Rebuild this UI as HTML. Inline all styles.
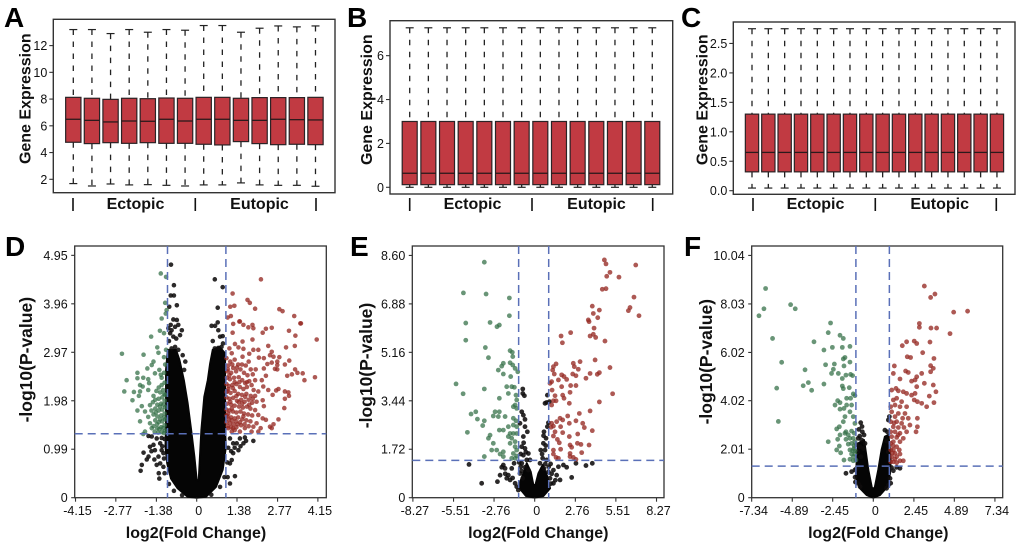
<!DOCTYPE html>
<html lang="en">
<head>
<meta charset="utf-8">
<title>Gene expression box plots and volcano plots</title>
<style>
html,body{margin:0;padding:0;background:#fff;width:1020px;height:548px;overflow:hidden}
svg{display:block;filter:blur(.35px)}
text{font-family:"Liberation Sans",Arial,sans-serif;fill:#111}
.tick{font-size:12.5px}
.bold{font-size:16px;font-weight:700}
.yttl{font-size:17.5px;font-weight:700}
.letter{font-size:28px;font-weight:700;fill:#000}
</style>
</head>
<body>
<svg id="figure" width="1020" height="548" viewBox="0 0 1020 548" xmlns="http://www.w3.org/2000/svg"></svg>
<script>
/* ---------- box plot data ---------- */
const aUpper=[13.2,13.2,12.9,13.2,13,13.2,13.15,13.5,13.5,13,13.3,13.47,13.4,13.47];
const aQ3=[8.13,8.06,7.98,8.06,8.03,8.08,8.06,8.13,8.13,8.06,8.11,8.11,8.11,8.13];
const aMedian=[6.49,6.41,6.29,6.36,6.34,6.49,6.36,6.49,6.49,6.41,6.41,6.49,6.46,6.44];
const aQ1=[4.77,4.67,4.74,4.69,4.74,4.69,4.69,4.62,4.57,4.82,4.67,4.59,4.62,4.59];
const aLower=[1.68,1.5,1.65,1.58,1.6,1.55,1.5,1.58,1.58,1.73,1.58,1.55,1.55,1.48];
const aTicks=[2,4,6,8,10,12];

const bUpper=[7.27,7.27,7.27,7.27,7.27,7.27,7.27,7.27,7.27,7.27,7.27,7.27,7.27,7.27];
const bQ3=[3,3,3,3,3,3,3,3,3,3,3,3,3,3];
const bMedian=[.64,.64,.64,.64,.64,.64,.64,.64,.64,.64,.64,.64,.64,.64];
const bQ1=[.12,.12,.12,.12,.12,.12,.12,.12,.12,.12,.12,.12,.12,.12];
const bLower=[0,0,0,0,0,0,0,0,0,0,0,0,0,0];
const bTicks=[0,2,4,6];

const cUpper=[2.75,2.75,2.75,2.75,2.75,2.75,2.75,2.75,2.75,2.75,2.75,2.75,2.75,2.75,2.75,2.75];
const cQ3=[1.3,1.3,1.3,1.3,1.3,1.3,1.3,1.3,1.3,1.3,1.3,1.3,1.3,1.3,1.3,1.3];
const cMedian=[.65,.65,.65,.65,.65,.65,.65,.65,.65,.65,.65,.65,.65,.65,.65,.65];
const cQ1=[.32,.32,.32,.32,.32,.32,.32,.32,.32,.32,.32,.32,.32,.32,.32,.32];
const cLower=[.045,.045,.045,.045,.045,.045,.045,.045,.045,.045,.045,.045,.045,.045,.045,.045];
const cTicks=["0.0","0.5","1.0","1.5","2.0","2.5"];

/* ---------- volcano D ---------- */
const dXTicks=["-4.15","-2.77","-1.38","0","1.38","2.77","4.15"];
const dYTicks=["0","0.99","1.98","2.97","3.96","4.95"];
const dThresholds=[-1,1,1.307];
const dCloud=[[-.99,3.02],[-1.05,2.61],[-1.05,1.38],[-1.07,1.04],[-1.01,.7],[-.88,.39],[-.65,.19],[-.31,.02],[0,0],[.32,.02],[.66,.22],[.89,.57],[1,1.04],[.97,1.38],[.97,2.95],[.78,3.08],[.55,3.02],[.46,2.74],[.38,2.4],[.26,2.06],[.16,1.38],[.07,.36],[0,.36],[-.08,.84],[-.19,1.38],[-.31,1.93],[-.44,2.4],[-.59,2.81],[-.71,3.02]];
const dBlack=[[-.88,4.76],[-.78,4.34],[-.89,4.13],[-.78,4.13],[-.68,3.93],[-.94,3.9],[-.8,3.64],[-.68,3.63],[-.89,3.53],[-.97,3.46],[-.86,3.42],[-.74,3.49],[-.63,3.53],[-.51,3.42],[-.91,3.36],[-.8,3.29],[-.57,3.32],[-.86,3.05],[-.74,3.08],[-.63,3.02],[-.48,2.91],[-.39,2.78],[-.43,2.61],[.62,4.46],[.89,4.3],[.72,3.88],[.72,3.58],[.51,3.51],[.63,3.51],[.74,3.42],[.8,3.29],[.89,3.3],[.74,3.06],[.85,3.08],[.62,3.05],[1.31,.44],[1.06,.42],[1.14,.29],[1.14,.7],[1.25,.91],[1.43,.97],[1.6,1.11],[1.69,1.16],[1.94,1.16],[1.48,1.21],[1.37,1.11],[1.2,.77],[1.25,1.11],[1.14,1.21],[1.65,1.23],[1.08,1.02],[-1.82,.92],[-1.88,.67],[-1.92,.55],[-1.71,.78],[-1.65,.84],[-1.6,1.04],[-1.48,1.08],[-1.37,1.21],[-1.25,1.11],[-1.2,.97],[-1.31,.84],[-1.37,.67],[-1.28,.39],[-1.14,.63],[-1.43,.97],[-1.54,1.25],[-1.65,1.26],[-1.14,.91],[-1.25,.7],[-1.1,1.2],[-1.18,1.05],[-1.3,.5],[-1.12,.8],[-1.1,.5],[-.95,.28],[-.78,.14],[-.5,.05],[.5,.06],[.8,.22],[.95,.42],[1.05,.72],[-1.45,.78],[-1.55,.95],[-1.2,1.22],[1.3,1.02],[1.5,1.05],[1.18,.95],[-.95,3.2],[-.7,3.25],[.55,3.2],[.9,3.15]];
const dGreen=[[-1.23,4.58],[-1.05,4.51],[-1.08,3.98],[-1.03,3.83],[-1.2,3.66],[-1.06,3.76],[-2.56,2.94],[-1.82,2.92],[-1.56,3.29],[-1.26,3.41],[-1.12,3.36],[-1.35,3.07],[-1.31,2.96],[-1.12,2.87],[-1.05,3.02],[-1.48,2.78],[-1.54,2.71],[-1.69,2.64],[-1.43,2.54],[-2.03,2.55],[-2.03,2.44],[-2.4,2.4],[-1.83,2.45],[-1.66,2.42],[-1.28,2.61],[-1.23,2.51],[-1.94,2.3],[-1.63,2.34],[-2.48,2.17],[-2.15,2.16],[-1.85,2.27],[-1.94,2.17],[-1.66,2.2],[-1.98,2.08],[-2.2,1.99],[-1.48,2.08],[-1.88,1.87],[-2.03,1.78],[-1.77,1.76],[-1.6,1.89],[-1.94,1.56],[-1.83,1.3],[-1.77,1.35],[-1.66,1.65],[-1.6,1.52],[-1.54,1.42],[-1.1,2.35],[-1.2,2.3],[-1.3,2.25],[-1.15,2.2],[-1.25,2.15],[-1.38,2.18],[-1.08,2.1],[-1.18,2.05],[-1.3,2.02],[-1.42,2],[-1.1,1.98],[-1.22,1.92],[-1.35,1.9],[-1.5,1.95],[-1.08,1.85],[-1.18,1.8],[-1.3,1.78],[-1.42,1.82],[-1.55,1.78],[-1.1,1.72],[-1.22,1.68],[-1.35,1.66],[-1.48,1.7],[-1.08,1.6],[-1.18,1.56],[-1.3,1.54],[-1.42,1.58],[-1.1,1.48],[-1.22,1.44],[-1.35,1.42],[-1.48,1.46],[-1.08,1.37],[-1.2,1.34],[-1.32,1.33],[-1.44,1.35],[-1.12,1.32],[-1.12,2.55],[-1.08,2.72],[-1.2,2.45],[-1.14,1.9],[-1.26,1.86],[-1.12,1.64],[-1.25,1.6],[-1.15,1.42],[-1.28,1.4],[-1.4,1.74],[-1.12,2.12],[-1.36,1.5]];
const dRed=[[2.2,4.46],[1.23,4.17],[1.74,4.04],[1.82,3.98],[2,3.86],[1.29,3.92],[1.15,3.9],[2.83,3.85],[2.94,3.81],[3.34,3.71],[3.55,3.56],[1.17,3.71],[1.06,3.68],[1.46,3.6],[1.25,3.55],[1.48,3.6],[1.6,3.53],[1.77,3.48],[1.91,3.53],[1.94,3.46],[1.23,3.37],[2.26,3.37],[2.37,3.45],[2.57,3.47],[3.16,3.41],[3.57,3.56],[3.38,3.31],[1.91,3.23],[1.31,3.14],[1.57,3.19],[1.43,3.07],[1.12,3.05],[1.6,3.04],[2.45,3.1],[3.06,3.07],[3.36,3.1],[4.11,3.23],[1.2,2.95],[1.57,2.88],[1.8,2.94],[1.94,3.02],[2.11,3.02],[2.57,2.98],[2.51,2.91],[2.63,2.88],[2.83,2.87],[2.13,2.86],[2.3,2.85],[3.17,2.8],[3.02,2.72],[2.76,2.78],[2.76,2.71],[2.76,2.62],[2.57,2.76],[2.42,2.73],[2.3,2.64],[2.68,2.63],[3.37,2.62],[3.45,2.55],[3.63,2.54],[3.26,2.52],[3.1,2.49],[2.37,2.49],[4.05,2.46],[3.69,2.4],[2.8,2.22],[2.72,2.19],[3.02,2.17],[3.14,2.15],[2.6,2.1],[3.02,2.02],[3.16,2.08],[3,1.83],[2.8,1.6],[2.63,1.5],[2.51,1.45],[2.57,1.42],[2.37,1.59],[2.3,1.87],[2.26,1.99],[2.45,2.2],[2.28,2.27],[2.11,2.17],[2,2.4],[2.23,2.4],[2.05,1.96],[2,1.79],[2.11,1.69],[2.26,1.62],[2.05,1.52],[2.19,1.42],[2.11,1.35],[1.94,1.45],[1.88,1.35],[1.65,1.42],[1.25,1.42],[1.2,1.35],[1.48,1.35],[1.02,2.85],[1.08,2.7],[1.15,2.78],[1.3,2.82],[1.42,2.72],[1.25,2.65],[1.05,2.58],[1.18,2.55],[1.35,2.58],[1.5,2.62],[1.68,2.7],[1.78,2.78],[1.85,2.62],[1.62,2.55],[1.74,2.5],[1.92,2.52],[2.02,2.62],[1.03,2.45],[1.14,2.42],[1.28,2.45],[1.44,2.46],[1.56,2.4],[1.66,2.34],[1.8,2.38],[1.88,2.3],[1.02,2.32],[1.1,2.28],[1.22,2.3],[1.36,2.32],[1.48,2.26],[1.6,2.22],[1.72,2.26],[1.95,2.2],[1.05,2.18],[1.16,2.14],[1.3,2.18],[1.42,2.12],[1.55,2.1],[1.7,2.12],[1.85,2.08],[2,2.08],[1.02,2.05],[1.12,2.02],[1.25,2.04],[1.38,1.98],[1.52,2],[1.64,1.96],[1.78,2],[1.9,1.94],[1.04,1.92],[1.18,1.9],[1.3,1.88],[1.45,1.86],[1.58,1.84],[1.72,1.86],[1.84,1.82],[1.02,1.8],[1.12,1.78],[1.24,1.76],[1.36,1.74],[1.5,1.76],[1.62,1.72],[1.76,1.7],[1.9,1.68],[1.05,1.66],[1.18,1.64],[1.3,1.62],[1.42,1.64],[1.56,1.6],[1.7,1.58],[1.84,1.56],[1.02,1.54],[1.14,1.52],[1.26,1.5],[1.4,1.5],[1.52,1.48],[1.08,1.42],[1.3,1.38],[1.64,1.5],[1.78,1.46],[1.07,2.62],[1.22,2.72],[1.38,2.66],[1.55,2.72],[1.12,2.5],[1.3,2.36],[1.46,2.36],[1.08,2.22],[1.24,2.24],[1.36,2.08],[1.15,1.96],[1.08,1.72],[1.2,1.82],[1.44,1.95],[1.56,1.92],[1.2,1.58],[1.34,1.56],[1.1,1.6],[1.48,1.54],[1.6,1.66],[1.06,1.46],[1.18,1.44],[1.36,1.44],[1.02,2.16],[1.02,1.68],[1.66,2.06],[1.8,1.9],[1.92,2.02],[1.72,2.36]];

/* ---------- volcano E ---------- */
const eXTicks=["-8.27","-5.51","-2.76","0","2.76","5.51","8.27"];
const eYTicks=["0","1.72","3.44","5.16","6.88","8.60"];
const eThresholds=[-1.09,.95,1.325];
const eCloud=[[-1.11,.39],[-.81,.8],[-.54,1.22],[-.27,.92],[-.09,.45],[.05,.45],[.25,.86],[.54,1.16],[.86,.75],[1.04,.33],[.59,.06],[0,0],[-.59,.06]];
const eBlack=[[-4.46,1.18],[-3.6,.51],[-2.53,.57],[-2.35,.8],[-2.13,1.16],[-2.01,1.04],[-2.24,1.08],[-1.79,.8],[-1.67,.63],[-1.56,1.04],[-1.9,.69],[-1.22,.39],[-1.33,.51],[-1.11,.27],[-1.4,1.22],[-.81,3.86],[-.81,3.7],[-.7,3.62],[-.88,3.05],[-.77,2.93],[-.66,2.78],[-1,2.64],[-.66,2.52],[-.5,2.34],[-.77,2.17],[-.88,1.81],[-.66,1.75],[-.43,1.57],[-.77,1.51],[-.54,1.34],[-.32,1.34],[-.88,1.22],[-.66,1.08],[-.43,.98],[-1,.86],[-.81,.69],[.86,3.64],[.81,3.38],[1,3.41],[.7,3.35],[.93,2.66],[.86,2.52],[.63,2.34],[.77,2.11],[.59,1.93],[.41,1.69],[.7,1.69],[.54,1.4],[.81,1.34],[.36,1.22],[.63,1.04],[.93,.92],[1.27,.98],[1.61,1.1],[1.95,1.16],[2.51,.72],[3.48,1.14],[3.91,1.22],[2.8,1.22],[2.17,1.08],[1.49,.8],[1.72,.63],[1.27,.51],[1.04,.69],[-.75,1.95],[-.6,1.62],[.75,1.85],[.6,2.2],[.5,1.55],[-.95,1.55],[1.15,.85],[1.4,.62],[-.95,1.1],[-1.05,1.25],[-.9,.95],[.95,1.1],[1.08,1.2],[.72,1.2],[1.1,.5],[-1.5,.7],[-2,.85]];
const eGreen=[[-3.42,8.36],[-4.84,7.27],[-3.3,7.23],[-1.72,7.09],[-1.72,6.46],[-4.68,6.2],[-3.03,6.22],[-2.4,6.13],[-2.56,6.07],[-4.68,5.59],[-3.35,5.33],[-3.14,4.97],[-1.67,5.22],[-1.52,5.16],[-1.49,5.01],[-2.13,4.77],[-1.67,4.79],[-2.24,4.67],[-1.49,4.71],[-2.47,4.53],[-2.13,4.39],[-1.63,4.3],[-1.33,4.59],[-1.15,4.47],[-1.9,3.94],[-5.34,4.04],[-4.86,3.69],[-3.42,3.86],[-1.56,3.94],[-1.38,3.92],[-1.79,3.7],[-1.27,3.64],[-2.4,3.53],[-1.22,3.47],[-1.33,3.29],[-1.22,3.17],[-1.45,3.23],[-4,3.05],[-4.32,2.97],[-2.69,3.05],[-2.4,3.05],[-2.81,2.9],[-2.47,2.88],[-2.01,2.88],[-3.89,2.79],[-3.42,2.73],[-3.53,2.56],[-1.45,2.82],[-1.27,2.73],[-1.45,2.58],[-1.22,2.52],[-4.57,2.32],[-2.4,2.4],[-2.13,2.4],[-1.79,2.52],[-3.03,2.22],[-1.67,2.28],[-1.45,2.28],[-1.22,2.28],[-3.14,2.11],[-1.79,2.17],[-1.56,2.11],[-2.81,1.93],[-1.33,1.99],[-1.67,1.93],[-2.92,1.69],[-2.58,1.69],[-2.13,1.63],[-1.33,1.81],[-1.22,1.69],[-2.35,1.55],[-1.45,1.57],[-1.22,1.48],[-3.42,1.46],[-2.13,1.46],[-1.56,1.4],[-1.33,1.4]];
const eRed=[[4.73,8.44],[4.84,8.3],[6.86,8.26],[5.11,8],[4.89,7.86],[5.72,7.83],[4.59,7.4],[4.84,7.42],[6.74,7.12],[3.91,6.8],[6.47,6.75],[6.36,6.64],[7.08,6.46],[4.39,6.66],[3.98,6.54],[4.28,6.39],[3.64,6.31],[3.69,6.25],[4.03,6.02],[2.44,5.86],[1.79,5.74],[3.76,5.74],[3.98,5.8],[4.14,5.69],[4.77,5.56],[1.88,5.5],[4.1,4.89],[3.08,4.83],[2.62,4.77],[5.11,4.62],[1.45,4.75],[1.27,4.65],[2.69,4.65],[2.96,4.56],[1.22,4.53],[1.33,4.39],[2.58,4.39],[2.8,4.33],[1.83,4.36],[3.76,4.41],[4.39,4.44],[4.25,4.38],[3.48,4.24],[1.15,4.12],[1.04,4.06],[1.61,4.18],[1.99,4.3],[2.17,4.2],[2.44,3.98],[2.8,3.98],[1.18,3.82],[1.83,3.94],[5.29,3.69],[2.4,3.74],[1.38,3.62],[1.9,3.64],[1.99,3.53],[1.27,3.44],[1.45,3.44],[2.35,3.35],[4.39,3.4],[1.15,3.29],[3.76,3.08],[3.03,2.99],[2.24,2.9],[1.72,2.82],[1.9,2.76],[2.8,2.73],[1.49,2.7],[1.15,2.64],[2.35,2.64],[3.26,2.64],[1.76,2.52],[1.27,2.54],[1.11,2.5],[3.37,2.49],[3.91,2.38],[1.38,2.34],[1.9,2.31],[2.92,2.26],[2.35,2.17],[1.27,2.19],[1.54,2.07],[1.67,1.95],[2.4,1.87],[2.9,1.93],[3.14,1.89],[3.69,1.87],[1.27,1.69],[1.76,1.72],[2.51,1.79],[3.19,1.6],[2.4,1.57],[1.27,1.55],[1.45,1.43],[1.61,1.4],[2.4,1.46],[2.62,1.43],[2.8,1.36]];

/* ---------- volcano F ---------- */
const fXTicks=["-7.34","-4.89","-2.45","0","2.45","4.89","7.34"];
const fYTicks=["0","2.01","4.02","6.02","8.03","10.04"];
const fThresholds=[-1.05,.97,1.31];
const fCloud=[[-.91,2.25],[-1.01,1.42],[-1.05,.87],[-.8,.39],[-.4,.11],[0,0],[.4,.11],[.85,.46],[1.01,1.01],[1.05,1.56],[.97,2.25],[.91,2.6],[.7,2.53],[.5,1.98],[.3,1.15],[.08,.39],[-.08,.39],[-.3,1.15],[-.44,1.84],[-.56,2.39]];
const fBlack=[[-.76,3.11],[-.87,2.83],[-.66,2.73],[-.56,2.6],[-.91,2.46],[-.7,2.39],[-.5,2.25],[-.8,2.11],[-.6,2.04],[.7,2.8],[.85,2.73],[.97,3.36],[.91,3.22],[-1.65,1.01],[-1.31,1.08],[-.91,1.28],[-1.11,1.15],[1.61,1.22],[1.41,1.26],[1.21,1.12],[1.01,.8],[-.91,.59],[-1.08,.65],[-.8,.46],[.91,.52],[.8,.39],[-1,2.2],[-.75,1.7],[-.95,1.9],[.8,2.35],[.9,1.9],[-.68,2.95],[-.82,2.55],[1.1,1.25],[-1.02,1.2],[-1.1,.85],[1.05,.6]];
const fGreen=[[-6.5,8.67],[-6.6,7.83],[-6.9,7.54],[-4.99,8],[-4.71,7.83],[-2.58,7.24],[-2.72,6.84],[-6.08,6.6],[-3.58,6.46],[-2.01,6.73],[-1.81,6.6],[-1.41,6.27],[-1.87,6.23],[-2.47,6.23],[-2.98,6.12],[-5.53,5.61],[-1.71,5.81],[-1.81,5.75],[-1.41,5.62],[-2.88,5.51],[-2.35,5.54],[-1.77,5.46],[-4.12,5.3],[-2.41,5.32],[-2.52,5.15],[-2.11,5.15],[-1.37,5.11],[-1.25,5.06],[-1.65,5.08],[-1.87,4.94],[-3.92,4.77],[-4.23,4.64],[-2.98,4.71],[-3.72,4.45],[-5.83,4.54],[-1.87,4.63],[-1.81,4.52],[-1.45,4.56],[-1.21,4.3],[-1.11,4.23],[-1.61,4.12],[-1.37,4.12],[-2.15,4.02],[-2.31,3.84],[-2.01,3.94],[-1.61,3.84],[-1.31,3.84],[-2.01,3.67],[-1.77,3.7],[-1.41,3.56],[-1.21,3.36],[-1.71,3.36],[-1.81,3.15],[-5.73,3.16],[-1.11,3.08],[-2.05,2.94],[-2.21,2.85],[-1.65,2.73],[-1.31,2.76],[-1.15,2.67],[-2.01,2.6],[-1.51,2.6],[-1.71,2.67],[-1.21,2.46],[-1.41,2.46],[-2.72,2.32],[-2.15,2.42],[-1.65,2.42],[-2.05,2.14],[-1.31,2.25],[-1.11,2.32],[-1.51,2.22],[-2.21,1.98],[-1.97,1.86],[-1.41,1.98],[-1.17,2.04],[-1.31,1.81],[-1.11,1.81],[-1.77,1.56],[-1.41,1.59],[-1.21,1.53],[-1.05,1.56],[-1.15,2.15],[-1.25,1.95],[-1.1,1.95],[-1.2,1.7]];
const fRed=[[3.08,8.77],[3.72,8.44],[3.46,8.3],[4.85,7.69],[5.69,7.73],[2.78,7.22],[2.78,7.06],[3.48,7.03],[3.82,7.03],[4.63,6.8],[2.01,6.46],[2.47,6.49],[2.62,6.39],[3.42,6.45],[1.75,6.3],[2.98,6.01],[2.05,5.84],[2.25,5.81],[3.66,5.77],[1.27,5.46],[3.46,5.47],[3.62,5.36],[3.46,5.22],[1.95,5.25],[2.11,5.19],[2.92,5.15],[1.21,5.15],[1.61,4.92],[2.62,5.01],[2.52,4.88],[2.31,4.83],[3.08,4.74],[3.62,4.67],[1.37,4.53],[1.11,4.46],[1.51,4.43],[1.81,4.39],[2.62,4.6],[3.78,4.39],[3.38,4.21],[2.01,4.32],[2.31,4.25],[2.52,4.32],[1.41,4.12],[1.21,4.05],[1.71,3.98],[2.47,4.05],[2.66,3.98],[2.92,3.91],[3.66,3.94],[3.22,3.77],[1.05,3.77],[1.31,3.84],[1.61,3.77],[2.01,3.77],[1.11,3.56],[1.51,3.49],[1.91,3.49],[1.31,3.36],[1.77,3.29],[2.11,3.29],[2.66,3.29],[1.05,3.15],[1.41,3.15],[1.71,3.08],[2.21,3.01],[1.21,2.94],[1.51,2.91],[1.85,2.91],[2.66,2.94],[2.58,2.73],[1.05,2.73],[1.31,2.73],[1.61,2.67],[2.01,2.73],[1.11,2.53],[1.41,2.5],[1.81,2.46],[1.21,2.32],[1.61,2.32],[1.05,2.25],[1.41,2.11],[1.57,1.98],[1.21,1.98],[1.05,1.98],[1.31,1.84],[1.61,1.81],[1.81,1.53],[1.11,1.7],[1.41,1.7],[1.21,1.49],[1.41,1.45],[1.05,1.49],[1.61,1.53],[1.25,3.1],[1.5,2.6],[1.2,2.15],[1.15,1.85],[1.3,1.6]];

/* ---------- drawing helpers ---------- */
const svg = document.getElementById('figure');
const NS = 'http://www.w3.org/2000/svg';

function make(tag, attrs, parent) {
  const el = document.createElementNS(NS, tag);
  for (const k in attrs) el.setAttribute(k, attrs[k]);
  (parent || svg).appendChild(el);
  return el;
}

function label(str, x, y, cls, anchor, rot, parent, name) {
  const attrs = {x: x, y: y, class: cls, 'text-anchor': anchor};
  if (rot) attrs.transform = 'rotate(-90 ' + x + ' ' + y + ')';
  const el = make('text', attrs, parent);
  el.textContent = str;
  
  
  return el;
}

function axisLine(x1, y1, x2, y2, parent, name) {
  const el = make('line', {x1: x1, y1: y1, x2: x2, y2: y2, stroke: '#333', 'stroke-width': 1.1}, parent);
  
  
  return el;
}

/* ---------- box plot panel ---------- */
function boxPanel(p) {
  const g = make('g', {});
  
  

  const y = v => p.y0 + (v - p.v0) * p.yk;
  const x = i => p.c0 + i * p.step;
  const frame = make('rect', {x: p.l, y: p.t, width: p.r - p.l, height: p.b - p.t, fill: '#fff', stroke: '#333', 'stroke-width': 1.4}, g);
  
  

  p.upper.forEach((u, i) => {
    const cx = x(i);
    const whiskerUp = make('line', {x1: cx, x2: cx, y1: y(u), y2: y(p.q3[i]), stroke: '#222', 'stroke-width': 1.3, 'stroke-dasharray': '5.5 6.5'}, g);
    
    
    const whiskerDown = make('line', {x1: cx, x2: cx, y1: y(p.q1[i]), y2: y(p.lower[i]), stroke: '#222', 'stroke-width': 1.3, 'stroke-dasharray': '5.5 6.5'}, g);
    
    
    const capUp = make('line', {x1: cx - 4, x2: cx + 4, y1: y(u), y2: y(u), stroke: '#222', 'stroke-width': 1.2}, g);
    
    
    const capDown = make('line', {x1: cx - 4, x2: cx + 4, y1: y(p.lower[i]), y2: y(p.lower[i]), stroke: '#222', 'stroke-width': 1.2}, g);
    
    
    const box = make('rect', {x: cx - p.w / 2, y: y(p.q3[i]), width: p.w, height: y(p.q1[i]) - y(p.q3[i]), fill: '#c13a42', stroke: '#2b2326', 'stroke-width': 1.2}, g);
    
    
    const median = make('line', {x1: cx - p.w / 2, x2: cx + p.w / 2, y1: y(p.median[i]), y2: y(p.median[i]), stroke: '#2b1a1c', 'stroke-width': 1.3}, g);
    
    
  });

  p.ticks.forEach(t => {
    const ty = y(parseFloat(t));
    axisLine(p.l - 4, ty, p.l, ty, g, 'y-tick');
    label(String(t), p.l - 6, ty + 4.5, 'tick', 'end', false, g, 'y-tick-label');
  });

  p.sep.forEach(sx => {
    const el = make('line', {x1: sx, x2: sx, y1: 198, y2: 211, stroke: '#111', 'stroke-width': 1.6}, g);
    
    
  });
  label('Ectopic', p.ect, 209, 'bold', 'middle', false, g, 'ectopic-group-label');
  label('Eutopic', p.eut, 209, 'bold', 'middle', false, g, 'eutopic-group-label');
  label('Gene Expression', p.titleX, p.titleY, 'bold', 'middle', true, g, 'y-axis-title');
}

/* ---------- volcano panel ---------- */
function volcano(p) {
  const g = make('g', {});
  
  
  const T = 246, B = 497.7;
  const x = v => p.x0 + v * p.xk;
  const y = v => B - v * p.yk;

  const frame = make('rect', {x: p.l, y: T, width: p.r - p.l, height: B - T, fill: '#fff', stroke: '#333', 'stroke-width': 1.3}, g);
  
  

  const cloud = make('polygon', {points: p.cloud.map(c => x(c[0]) + ',' + y(c[1])).join(' '), fill: '#050505', stroke: '#050505', 'stroke-width': 2, 'stroke-linejoin': 'round'}, g);
  
  

  p.black.forEach(c => {
    const dot = make('circle', {cx: x(c[0]), cy: y(c[1]), r: p.rad, fill: 'rgba(15,12,12,.88)'}, g);
    
    
  });
  p.green.forEach(c => {
    const dot = make('circle', {cx: x(c[0]), cy: y(c[1]), r: p.rad, fill: 'rgba(52,112,72,.74)'}, g);
    
    
  });
  p.red.forEach(c => {
    const dot = make('circle', {cx: x(c[0]), cy: y(c[1]), r: p.rad, fill: 'rgba(150,42,36,.78)'}, g);
    
    
  });

  const dash = {stroke: '#5a70b8', 'stroke-width': 1.5, 'stroke-dasharray': '8 5', fill: 'none'};
  const vLeft = make('line', Object.assign({x1: x(p.th[0]), x2: x(p.th[0]), y1: T, y2: B}, dash), g);
  
  
  const vRight = make('line', Object.assign({x1: x(p.th[1]), x2: x(p.th[1]), y1: T, y2: B}, dash), g);
  
  
  const hLine = make('line', Object.assign({x1: p.l, x2: p.r, y1: y(p.th[2]), y2: y(p.th[2])}, dash), g);
  
  

  p.xTicks.forEach(t => {
    const tx = x(parseFloat(t));
    axisLine(tx, B, tx, B + 4, g, 'x-tick');
    label(t, tx + 2, 515, 'tick', 'middle', false, g, 'x-tick-label');
  });
  p.yTicks.forEach(t => {
    const ty = y(parseFloat(t));
    axisLine(p.l - 3.5, ty, p.l, ty, g, 'y-tick');
    label(t, p.l - 7, ty + 4.5, 'tick', 'end', false, g, 'y-tick-label');
  });
  label('log2(Fold Change)', p.xTitle, 538, 'bold', 'middle', false, g, 'x-axis-title');
  label('-log10(P-value)', p.yTitleX, p.yTitleY, 'yttl', 'middle', true, g, 'y-axis-title');
}

/* ---------- panels ---------- */
boxPanel({id: 'panel-a', l: 53.3, r: 335, t: 19.3, b: 192.7, y0: 179.3, v0: 2, yk: -13.37, c0: 73.3, step: 18.63, w: 15.3,
  upper: aUpper, q3: aQ3, median: aMedian, q1: aQ1, lower: aLower, ticks: aTicks,
  sep: [73, 195.3, 316], ect: 135.5, eut: 259.5, titleX: 30.7, titleY: 98.7});
boxPanel({id: 'panel-b', l: 390, r: 672.7, t: 20.7, b: 194, y0: 187.3, v0: 0, yk: -21.94, c0: 409.7, step: 18.66, w: 15,
  upper: bUpper, q3: bQ3, median: bMedian, q1: bQ1, lower: bLower, ticks: bTicks,
  sep: [409.7, 532, 652.7], ect: 472.5, eut: 596.5, titleX: 372, titleY: 99.7});
boxPanel({id: 'panel-c', l: 733.3, r: 1015, t: 22, b: 194.3, y0: 190.7, v0: 0, yk: -58.9, c0: 752, step: 16.33, w: 13.3,
  upper: cUpper, q3: cQ3, median: cMedian, q1: cQ1, lower: cLower, ticks: cTicks,
  sep: [753, 875.3, 996.3], ect: 815.5, eut: 939.7, titleX: 707.3, titleY: 99.7});

volcano({id: 'panel-d', l: 74.7, r: 326.3, x0: 196.7, xk: 29.2, yk: 48.96, rad: 2.3,
  cloud: dCloud, black: dBlack, green: dGreen, red: dRed, th: dThresholds, xTicks: dXTicks, yTicks: dYTicks,
  xTitle: 196, yTitleX: 32, yTitleY: 359.7});
volcano({id: 'panel-e', l: 412.3, r: 664, x0: 534.7, xk: 14.73, yk: 28.17, rad: 2.4,
  cloud: eCloud, black: eBlack, green: eGreen, red: eRed, th: eThresholds, xTicks: eXTicks, yTicks: eYTicks,
  xTitle: 538.3, yTitleX: 372, yTitleY: 365.5});
volcano({id: 'panel-f', l: 751.7, r: 1002.7, x0: 873.3, xk: 16.57, yk: 24.13, rad: 2.4,
  cloud: fCloud, black: fBlack, green: fGreen, red: fRed, th: fThresholds, xTicks: fXTicks, yTicks: fYTicks,
  xTitle: 878.3, yTitleX: 712, yTitleY: 361.7});

/* ---------- panel letters ---------- */
const letterNames = ['A', 'B', 'C', 'D', 'E', 'F'];
const letterX = [4, 347, 681, 5, 350, 684];
const letterY = [27, 27, 27, 256, 256, 256];
letterNames.forEach((s, i) => {
  label(s, letterX[i], letterY[i], 'letter', 'start', false, svg, 'panel-letter-' + s.toLowerCase());
});
</script>
</body>
</html>
